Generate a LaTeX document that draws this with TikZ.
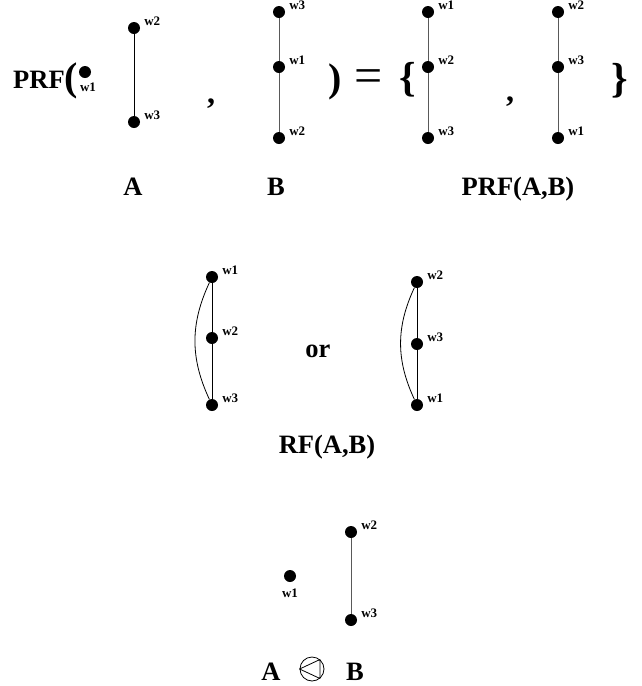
\documentclass[tikz,border=0pt]{standalone}
\usepackage{fontspec}
\setmainfont{Liberation Serif}
\begin{document}
\begin{tikzpicture}[x=1pt,y=-1pt,line join=round,
    dot/.style={circle,fill,inner sep=0pt,minimum size=12pt},
    lbl/.style={font=\fontsize{13}{14}\selectfont\bfseries,inner sep=1pt},
    big/.style={font=\fontsize{26.5}{30}\selectfont\bfseries},
    link/.style={line width=.9pt,black!65},
    wr/.style={label={[lbl,label distance=3pt]8:#1}}]
  \useasboundingbox (0,0) rectangle (642,686);
  % top row
  \node[big,anchor=base west,inner sep=0pt] (prf) at (13,88) {PRF};
  \node[font=\fontsize{40}{42}\selectfont\bfseries,inner sep=0pt] (lp) at (71,81) {(};
  \node[dot,label={[lbl,label distance=4pt,xshift=3pt]below:w1}] (Aw1) at (85,72) {};
  \node[dot,wr=w2] (Aw2) at (134,28) {};
  \node[dot,wr=w3] (Aw3) at (134,122) {};
  \draw[line width=.9pt] (Aw2) -- (Aw3);
  \node[font=\fontsize{32}{34}\selectfont\bfseries,inner sep=0pt] (c1) at (211,104) {,};
  \node[dot,wr=w3] (Bw3) at (279,12) {};
  \node[dot,wr=w1] (Bw1) at (279,67) {};
  \node[dot,wr=w2] (Bw2) at (279,138) {};
  \draw[link] (Bw3) -- (Bw1) -- (Bw2);
  \node[font=\fontsize{40}{42}\selectfont\bfseries,inner sep=0pt] (rp) at (335,82) {)};
  \node[font=\fontsize{50}{52}\selectfont,inner sep=0pt] (eq) at (369,81) {=};
  \node[font=\fontsize{42}{44}\selectfont\bfseries,inner sep=0pt] (lb) at (408,80) {\{};
  \node[dot,wr=w1] (Pw1) at (428,12) {};
  \node[dot,wr=w2] (Pw2) at (428,67) {};
  \node[dot,wr=w3] (Pw3) at (428,138) {};
  \draw[link] (Pw1) -- (Pw2) -- (Pw3);
  \node[font=\fontsize{32}{34}\selectfont\bfseries,inner sep=0pt] (c2) at (510,102) {,};
  \node[dot,wr=w2] (Qw2) at (558,12) {};
  \node[dot,wr=w3] (Qw3) at (558,67) {};
  \node[dot,wr=w1] (Qw1) at (558,138) {};
  \draw[link] (Qw2) -- (Qw3) -- (Qw1);
  \node[font=\fontsize{42}{44}\selectfont\bfseries,inner sep=0pt] (rb) at (620,81) {\}};
  \node[big,anchor=base] (A) at (133,195) {A};
  \node[big,anchor=base] (B) at (276,195) {B};
  \node[big,anchor=base] (prfAB) at (518,195) {PRF(A,B)};
  % middle row
  \node[dot,wr=w1] (Lw1) at (212,277) {};
  \node[dot,wr=w2] (Lw2) at (212,338) {};
  \node[dot,wr=w3] (Lw3) at (212,405) {};
  \draw[line width=.9pt] (Lw1) -- (Lw2) -- (Lw3);
  \draw[line width=.8pt] (Lw1) to[bend right=25] (Lw3);
  \node[big,anchor=base] (or) at (318,357) {or};
  \node[dot,wr=w2] (Rw2) at (417,282) {};
  \node[dot,wr=w3] (Rw3) at (417,344) {};
  \node[dot,wr=w1] (Rw1) at (417,405) {};
  \draw[line width=.9pt] (Rw2) -- (Rw3) -- (Rw1);
  \draw[line width=.8pt] (Rw2) to[bend right=25] (Rw1);
  \node[big,anchor=base] (rf) at (327,453) {RF(A,B)};
  % bottom row
  \node[dot,label={[lbl,label distance=6pt]below:w1}] (Cw1) at (290,576) {};
  \node[dot,wr=w2] (Cw2) at (351,532) {};
  \node[dot,wr=w3] (Cw3) at (351,620) {};
  \draw[link] (Cw2) -- (Cw3);
  \node[big,anchor=base] (A2) at (271,680) {A};
  \node[circle,draw,line width=.8pt,inner sep=0pt,minimum size=24pt] (op) at (312,669) {};
  \draw[line width=.8pt] (op.west) -- (op.50) -- (op.-50) -- cycle;
  \node[big,anchor=base] (B2) at (355,680) {B};
\end{tikzpicture}
\end{document}
